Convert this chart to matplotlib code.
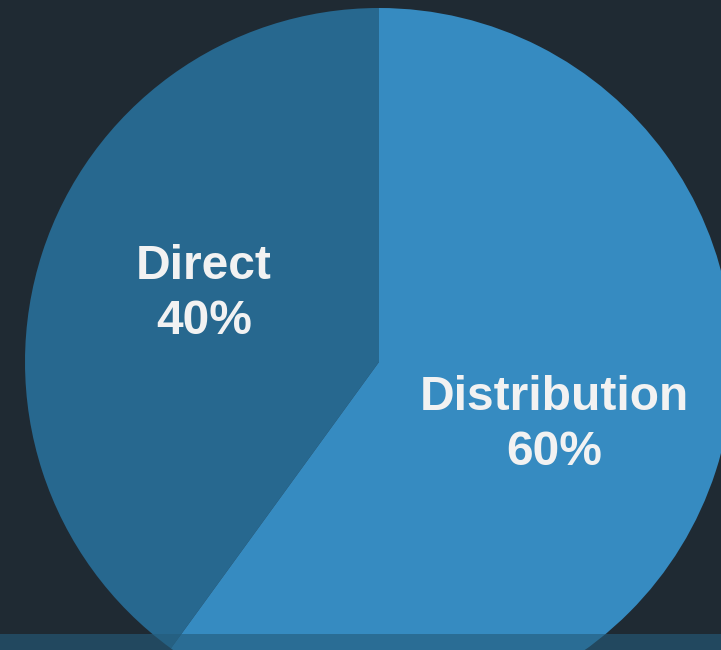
import numpy as np
import matplotlib
matplotlib.use('Agg')
import matplotlib.pyplot as plt

# Sales channel split
channels = ['Direct', 'Distribution']
shares = [40, 60]
colors = ['#27688f', '#368bc1']

bg = '#1f2a33'
W, H = 721, 650

fig = plt.figure(figsize=(W / 100, H / 100), dpi=100, facecolor=bg)
ax = fig.add_axes([0, 0, 1, 1])
ax.set_facecolor(bg)

cx, cy, r = 379, H - 362, 354
wedges, _ = ax.pie(shares, colors=colors, startangle=90, counterclock=True,
                   center=(cx, cy), radius=r, frame=True,
                   wedgeprops=dict(linewidth=0))
ax.set_xlim(0, W)
ax.set_ylim(0, H)
ax.set_aspect('equal')
ax.axis('off')

# labels at each wedge's mid angle, small vertical nudge per label
nudge = [11, -6]
for w, name, pct, dy in zip(wedges, channels, shares, nudge):
    mid = np.deg2rad((w.theta1 + w.theta2) / 2)
    x = cx + 0.52 * r * np.cos(mid)
    y = cy + 0.52 * r * np.sin(mid) + dy
    ax.text(x, y, f'{name}\n{pct}%', ha='center', va='center',
            fontsize=34.5, fontweight='bold', color='#f2f2f2',
            family='Liberation Sans', linespacing=1.3)

# translucent strip along the bottom edge
ax.add_patch(plt.Rectangle((0, 0), W, 16, color='#245c7b', alpha=0.62,
                           linewidth=0, zorder=5))

fig.savefig('out.png', dpi=100, facecolor=bg)
